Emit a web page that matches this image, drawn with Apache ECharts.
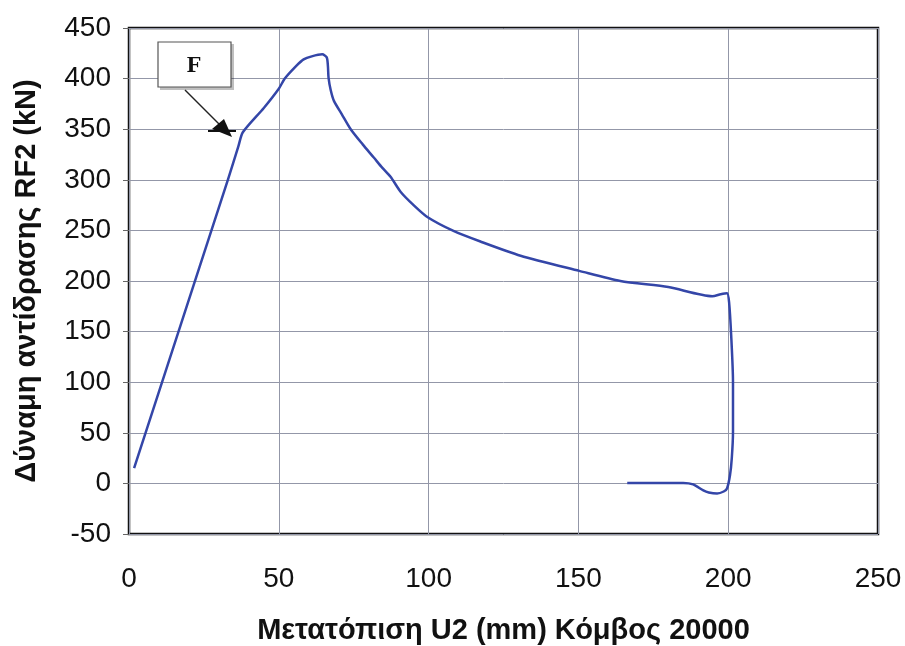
<!DOCTYPE html>
<html>
<head>
<meta charset="utf-8">
<script src="https://cdn.jsdelivr.net/npm/echarts@6/dist/echarts.min.js"></script>
<style>html,body{margin:0;padding:0;background:#fff;}#c{width:905px;height:646px;}</style>
</head>
<body>
<div id="c"></div>
<script>
// Displacement U2 (mm)
const dispX = [1.7, 33, 36.5, 38, 45, 50, 52, 56, 58.3, 61, 64.5, 66, 66.4, 66.6, 67.3, 68.4, 71, 74, 78, 81.7, 84.5, 87.3, 90.7, 95, 99.7, 108.3, 117.3, 130.7, 150.3, 164, 180, 194.7, 197.5, 199.6, 200.3, 201, 201.6, 201.6, 201.2, 200.6, 199.6, 198.5, 196.3, 193.5, 191.7, 188.3, 185, 175, 166.3];
// Reaction force RF2 (kN)
const forceY = [15, 300, 333, 347, 371, 390, 400, 413, 419, 422, 424, 421, 412, 401, 389, 378, 365, 350, 335, 322, 312, 303, 288, 275, 263, 249.5, 239, 225, 210, 200, 194, 185, 187, 188, 179, 146, 100, 51, 25, 8, -5, -8, -10, -9, -7, -1, 0.5, 0.5, 0.5];
const xTicks = {min: 0, max: 250, interval: 50};
const yTicks = {min: -50, max: 450, interval: 50};
const xTitle = 'Μετατόπιση U2 (mm) Κόμβος 20000';
const yTitle = 'Δύναμη αντίδρασης RF2 (kN)';
const noteLabel = 'F';

const data = dispX.map((x, i) => [x, forceY[i]]);
const chart = echarts.init(document.getElementById('c'));
const gridColor = '#9397a8';
const font = 'Liberation Sans, Arial, sans-serif';
chart.setOption({
  animation: false,
  backgroundColor: '#fff',
  grid: {left: 129, right: 27, top: 28, bottom: 112, show: true, borderColor: '#111', borderWidth: 2.5, backgroundColor: 'transparent', containLabel: false, outerBoundsMode: 'none'},
  xAxis: {
    type: 'value', min: xTicks.min, max: xTicks.max, interval: xTicks.interval,
    name: xTitle, nameLocation: 'middle', nameGap: 82,
    nameTextStyle: {fontFamily: font, fontWeight: 'bold', fontSize: 29, color: '#111'},
    axisLine: {show: false}, axisTick: {show: false},
    axisLabel: {margin: 31, fontFamily: font, fontSize: 28, color: '#111'},
    splitLine: {show: true, lineStyle: {color: gridColor, width: 1}}
  },
  yAxis: {
    type: 'value', min: yTicks.min, max: yTicks.max, interval: yTicks.interval,
    name: yTitle, nameLocation: 'middle', nameGap: 88, nameRotate: 90,
    nameTextStyle: {fontFamily: font, fontWeight: 'bold', fontSize: 29, color: '#111'},
    axisLine: {show: false},
    axisTick: {show: true, length: 6, lineStyle: {color: '#666'}},
    axisLabel: {margin: 18, fontFamily: font, fontSize: 28, color: '#111'},
    splitLine: {show: true, lineStyle: {color: gridColor, width: 1}}
  },
  series: [{
    type: 'line', data: data, showSymbol: false, smooth: 0.25,
    lineStyle: {color: '#3446a8', width: 2.5}
  }],
  graphic: [
    {type: 'rect', shape: {x: 160, y: 44, width: 74, height: 46}, style: {fill: 'rgba(0,0,0,0.25)'}, z: 10},
    {type: 'rect', shape: {x: 158, y: 42, width: 73, height: 45}, style: {fill: '#fff', stroke: '#555', lineWidth: 1.2}, z: 11},
    {type: 'text', x: 194, y: 66, style: {text: noteLabel, font: 'bold 24px "Liberation Serif", serif', fill: '#111', align: 'center', verticalAlign: 'middle'}, z: 12},
    {type: 'line', shape: {x1: 185, y1: 90, x2: 222, y2: 127}, style: {stroke: '#222', lineWidth: 1.5}, z: 12},
    {type: 'polygon', shape: {points: [[232, 137], [212, 129], [224, 119]]}, style: {fill: '#111'}, z: 12},
    {type: 'line', shape: {x1: 208, y1: 131, x2: 236, y2: 131}, style: {stroke: '#111', lineWidth: 2}, z: 12}
  ]
});
</script>
</body>
</html>
